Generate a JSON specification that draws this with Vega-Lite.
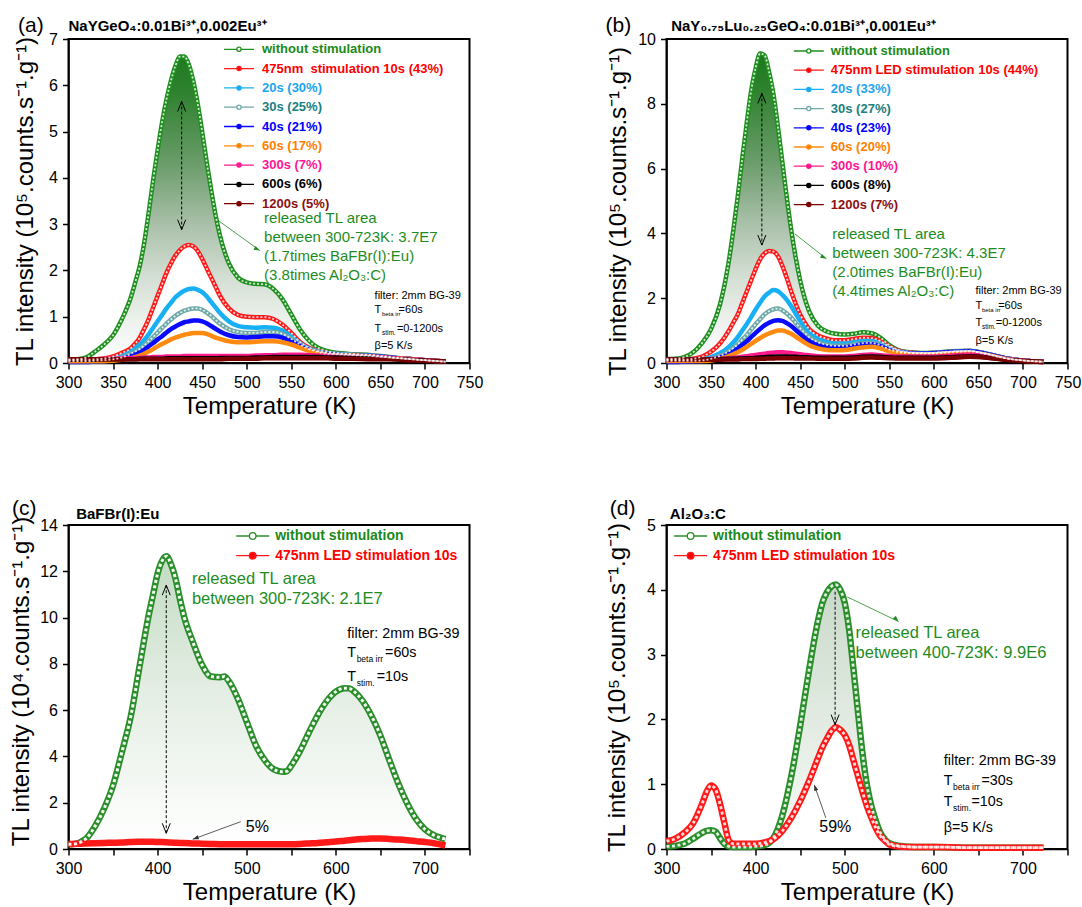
{
  "$schema": "https://vega.github.io/schema/vega-lite/v6.json",
  "background": "white",
  "padding": {"left": 8.5, "top": 13, "right": 5, "bottom": 5},
  "columns": 2,
  "spacing": {"row": 162, "column": 197},
  "bounds": "flush",
  "resolve": {"scale": {"x": "independent", "y": "independent", "color": "independent"}, "legend": {"color": "independent"}},
  "config": {
    "font": "Liberation Sans",
    "view": {"stroke": "black", "strokeWidth": 2},
    "axis": {"grid": false, "domainColor": "black", "domainWidth": 1.5, "tickColor": "black", "tickWidth": 1.5, "tickSize": 6, "labelFont": "Liberation Sans", "labelFontSize": 16, "labelColor": "black", "labelPadding": 5, "labelFlush": false, "labelOverlap": false, "titleFont": "Liberation Sans", "titleFontSize": 24, "titleFontWeight": "normal", "titleColor": "black"},
    "text": {"font": "Liberation Sans"}
  },
  "datasets": {
    "a": [
      {"T":300,"g":0.07,"r":0.07,"s20":0.05,"s30":0.04,"s40":0.02,"s60":0.04,"s300":0.08,"s600":0.07,"s1200":0.08},
      {"T":310,"g":0.08,"r":0.07,"s20":0.05,"s30":0.04,"s40":0.02,"s60":0.04,"s300":0.08,"s600":0.07,"s1200":0.08},
      {"T":320,"g":0.12,"r":0.07,"s20":0.05,"s30":0.04,"s40":0.02,"s60":0.04,"s300":0.08,"s600":0.07,"s1200":0.08},
      {"T":330,"g":0.25,"r":0.08,"s20":0.06,"s30":0.05,"s40":0.03,"s60":0.04,"s300":0.08,"s600":0.07,"s1200":0.08},
      {"T":340,"g":0.40,"r":0.10,"s20":0.07,"s30":0.06,"s40":0.04,"s60":0.04,"s300":0.09,"s600":0.08,"s1200":0.08},
      {"T":350,"g":0.60,"r":0.14,"s20":0.10,"s30":0.08,"s40":0.06,"s60":0.05,"s300":0.09,"s600":0.08,"s1200":0.08},
      {"T":360,"g":0.95,"r":0.22,"s20":0.15,"s30":0.12,"s40":0.09,"s60":0.07,"s300":0.10,"s600":0.08,"s1200":0.08},
      {"T":370,"g":1.42,"r":0.32,"s20":0.25,"s30":0.20,"s40":0.15,"s60":0.10,"s300":0.10,"s600":0.08,"s1200":0.08},
      {"T":375,"g":1.75,"r":0.42,"s20":0.32,"s30":0.25,"s40":0.19,"s60":0.13,"s300":0.11,"s600":0.08,"s1200":0.08},
      {"T":380,"g":2.10,"r":0.55,"s20":0.40,"s30":0.30,"s40":0.23,"s60":0.16,"s300":0.11,"s600":0.09,"s1200":0.08},
      {"T":385,"g":2.60,"r":0.74,"s20":0.50,"s30":0.38,"s40":0.29,"s60":0.20,"s300":0.12,"s600":0.09,"s1200":0.08},
      {"T":390,"g":3.25,"r":0.95,"s20":0.62,"s30":0.47,"s40":0.36,"s60":0.25,"s300":0.12,"s600":0.09,"s1200":0.08},
      {"T":395,"g":3.95,"r":1.20,"s20":0.76,"s30":0.56,"s40":0.43,"s60":0.30,"s300":0.13,"s600":0.09,"s1200":0.08},
      {"T":400,"g":4.60,"r":1.45,"s20":0.90,"s30":0.66,"s40":0.51,"s60":0.36,"s300":0.13,"s600":0.09,"s1200":0.08},
      {"T":405,"g":5.20,"r":1.70,"s20":1.04,"s30":0.76,"s40":0.58,"s60":0.41,"s300":0.13,"s600":0.09,"s1200":0.08},
      {"T":410,"g":5.70,"r":1.95,"s20":1.18,"s30":0.85,"s40":0.66,"s60":0.46,"s300":0.14,"s600":0.10,"s1200":0.08},
      {"T":415,"g":6.10,"r":2.15,"s20":1.30,"s30":0.94,"s40":0.73,"s60":0.51,"s300":0.14,"s600":0.10,"s1200":0.08},
      {"T":420,"g":6.42,"r":2.32,"s20":1.42,"s30":1.02,"s40":0.79,"s60":0.55,"s300":0.14,"s600":0.10,"s1200":0.08},
      {"T":425,"g":6.62,"r":2.44,"s20":1.50,"s30":1.08,"s40":0.84,"s60":0.58,"s300":0.14,"s600":0.10,"s1200":0.08},
      {"T":430,"g":6.62,"r":2.52,"s20":1.56,"s30":1.13,"s40":0.88,"s60":0.61,"s300":0.15,"s600":0.10,"s1200":0.08},
      {"T":435,"g":6.45,"r":2.55,"s20":1.60,"s30":1.16,"s40":0.90,"s60":0.63,"s300":0.15,"s600":0.10,"s1200":0.08},
      {"T":440,"g":6.10,"r":2.52,"s20":1.61,"s30":1.18,"s40":0.92,"s60":0.65,"s300":0.15,"s600":0.10,"s1200":0.08},
      {"T":445,"g":5.60,"r":2.42,"s20":1.58,"s30":1.18,"s40":0.92,"s60":0.65,"s300":0.15,"s600":0.10,"s1200":0.08},
      {"T":450,"g":5.00,"r":2.25,"s20":1.53,"s30":1.15,"s40":0.90,"s60":0.65,"s300":0.15,"s600":0.10,"s1200":0.08},
      {"T":455,"g":4.35,"r":2.05,"s20":1.44,"s30":1.09,"s40":0.86,"s60":0.63,"s300":0.15,"s600":0.10,"s1200":0.08},
      {"T":460,"g":3.75,"r":1.85,"s20":1.32,"s30":1.02,"s40":0.80,"s60":0.59,"s300":0.15,"s600":0.10,"s1200":0.08},
      {"T":465,"g":3.20,"r":1.65,"s20":1.20,"s30":0.93,"s40":0.74,"s60":0.55,"s300":0.15,"s600":0.10,"s1200":0.08},
      {"T":470,"g":2.75,"r":1.45,"s20":1.08,"s30":0.85,"s40":0.68,"s60":0.52,"s300":0.15,"s600":0.11,"s1200":0.08},
      {"T":480,"g":2.15,"r":1.18,"s20":0.90,"s30":0.73,"s40":0.60,"s60":0.47,"s300":0.15,"s600":0.11,"s1200":0.09},
      {"T":490,"g":1.85,"r":1.04,"s20":0.80,"s30":0.67,"s40":0.56,"s60":0.45,"s300":0.15,"s600":0.11,"s1200":0.09},
      {"T":500,"g":1.74,"r":1.00,"s20":0.77,"s30":0.65,"s40":0.55,"s60":0.45,"s300":0.15,"s600":0.11,"s1200":0.09},
      {"T":510,"g":1.71,"r":0.99,"s20":0.76,"s30":0.65,"s40":0.56,"s60":0.46,"s300":0.16,"s600":0.12,"s1200":0.09},
      {"T":520,"g":1.70,"r":0.99,"s20":0.77,"s30":0.67,"s40":0.58,"s60":0.47,"s300":0.17,"s600":0.12,"s1200":0.10},
      {"T":530,"g":1.60,"r":0.95,"s20":0.76,"s30":0.67,"s40":0.58,"s60":0.47,"s300":0.17,"s600":0.13,"s1200":0.10},
      {"T":540,"g":1.38,"r":0.83,"s20":0.70,"s30":0.63,"s40":0.55,"s60":0.45,"s300":0.18,"s600":0.13,"s1200":0.10},
      {"T":550,"g":1.05,"r":0.65,"s20":0.57,"s30":0.52,"s40":0.47,"s60":0.40,"s300":0.18,"s600":0.13,"s1200":0.10},
      {"T":560,"g":0.72,"r":0.45,"s20":0.42,"s30":0.40,"s40":0.37,"s60":0.33,"s300":0.18,"s600":0.13,"s1200":0.10},
      {"T":570,"g":0.48,"r":0.33,"s20":0.31,"s30":0.30,"s40":0.28,"s60":0.26,"s300":0.17,"s600":0.13,"s1200":0.10},
      {"T":580,"g":0.33,"r":0.26,"s20":0.25,"s30":0.24,"s40":0.22,"s60":0.21,"s300":0.16,"s600":0.13,"s1200":0.10},
      {"T":590,"g":0.26,"r":0.22,"s20":0.21,"s30":0.20,"s40":0.19,"s60":0.18,"s300":0.16,"s600":0.12,"s1200":0.10},
      {"T":600,"g":0.22,"r":0.20,"s20":0.20,"s30":0.19,"s40":0.18,"s60":0.17,"s300":0.15,"s600":0.12,"s1200":0.09},
      {"T":620,"g":0.19,"r":0.18,"s20":0.18,"s30":0.17,"s40":0.16,"s60":0.16,"s300":0.14,"s600":0.11,"s1200":0.09},
      {"T":640,"g":0.17,"r":0.16,"s20":0.16,"s30":0.15,"s40":0.15,"s60":0.14,"s300":0.13,"s600":0.10,"s1200":0.08},
      {"T":660,"g":0.13,"r":0.12,"s20":0.12,"s30":0.12,"s40":0.12,"s60":0.11,"s300":0.11,"s600":0.09,"s1200":0.08},
      {"T":680,"g":0.09,"r":0.09,"s20":0.09,"s30":0.09,"s40":0.09,"s60":0.09,"s300":0.08,"s600":0.07,"s1200":0.06},
      {"T":700,"g":0.06,"r":0.06,"s20":0.06,"s30":0.06,"s40":0.06,"s60":0.06,"s300":0.06,"s600":0.05,"s1200":0.05},
      {"T":723,"g":0.03,"r":0.03,"s20":0.03,"s30":0.03,"s40":0.03,"s60":0.03,"s300":0.03,"s600":0.03,"s1200":0.03}
    ],
    "b": [
      {"T":300,"g":0.12,"r":0.10,"s20":0.08,"s30":0.07,"s40":0.03,"s60":0.06,"s300":0.10,"s600":0.10,"s1200":0.10},
      {"T":310,"g":0.13,"r":0.10,"s20":0.08,"s30":0.07,"s40":0.03,"s60":0.06,"s300":0.10,"s600":0.10,"s1200":0.10},
      {"T":320,"g":0.18,"r":0.10,"s20":0.08,"s30":0.07,"s40":0.04,"s60":0.06,"s300":0.10,"s600":0.10,"s1200":0.10},
      {"T":330,"g":0.33,"r":0.13,"s20":0.09,"s30":0.07,"s40":0.05,"s60":0.06,"s300":0.11,"s600":0.10,"s1200":0.10},
      {"T":340,"g":0.62,"r":0.20,"s20":0.11,"s30":0.08,"s40":0.06,"s60":0.06,"s300":0.11,"s600":0.10,"s1200":0.10},
      {"T":350,"g":1.05,"r":0.35,"s20":0.18,"s30":0.13,"s40":0.10,"s60":0.08,"s300":0.12,"s600":0.11,"s1200":0.10},
      {"T":360,"g":1.80,"r":0.60,"s20":0.30,"s30":0.22,"s40":0.17,"s60":0.13,"s300":0.13,"s600":0.12,"s1200":0.10},
      {"T":370,"g":3.15,"r":1.00,"s20":0.50,"s30":0.36,"s40":0.28,"s60":0.21,"s300":0.15,"s600":0.13,"s1200":0.11},
      {"T":375,"g":4.10,"r":1.25,"s20":0.64,"s30":0.46,"s40":0.36,"s60":0.27,"s300":0.16,"s600":0.13,"s1200":0.11},
      {"T":380,"g":5.15,"r":1.50,"s20":0.80,"s30":0.58,"s40":0.45,"s60":0.33,"s300":0.17,"s600":0.14,"s1200":0.11},
      {"T":385,"g":6.30,"r":1.85,"s20":1.00,"s30":0.72,"s40":0.56,"s60":0.41,"s300":0.19,"s600":0.14,"s1200":0.12},
      {"T":390,"g":7.40,"r":2.20,"s20":1.20,"s30":0.86,"s40":0.67,"s60":0.50,"s300":0.21,"s600":0.15,"s1200":0.12},
      {"T":395,"g":8.40,"r":2.55,"s20":1.42,"s30":1.03,"s40":0.80,"s60":0.59,"s300":0.23,"s600":0.15,"s1200":0.12},
      {"T":400,"g":9.10,"r":2.90,"s20":1.65,"s30":1.20,"s40":0.93,"s60":0.68,"s300":0.25,"s600":0.16,"s1200":0.12},
      {"T":405,"g":9.55,"r":3.20,"s20":1.86,"s30":1.35,"s40":1.05,"s60":0.77,"s300":0.27,"s600":0.17,"s1200":0.13},
      {"T":410,"g":9.50,"r":3.38,"s20":2.05,"s30":1.50,"s40":1.16,"s60":0.85,"s300":0.29,"s600":0.18,"s1200":0.13},
      {"T":415,"g":9.00,"r":3.46,"s20":2.17,"s30":1.60,"s40":1.24,"s60":0.91,"s300":0.31,"s600":0.19,"s1200":0.14},
      {"T":420,"g":8.30,"r":3.44,"s20":2.25,"s30":1.66,"s40":1.30,"s60":0.96,"s300":0.32,"s600":0.19,"s1200":0.14},
      {"T":425,"g":7.30,"r":3.30,"s20":2.22,"s30":1.68,"s40":1.32,"s60":1.00,"s300":0.33,"s600":0.20,"s1200":0.15},
      {"T":430,"g":6.20,"r":3.00,"s20":2.10,"s30":1.63,"s40":1.30,"s60":1.00,"s300":0.33,"s600":0.20,"s1200":0.15},
      {"T":435,"g":5.10,"r":2.62,"s20":1.95,"s30":1.53,"s40":1.23,"s60":0.96,"s300":0.32,"s600":0.20,"s1200":0.15},
      {"T":440,"g":4.10,"r":2.20,"s20":1.75,"s30":1.40,"s40":1.14,"s60":0.90,"s300":0.31,"s600":0.19,"s1200":0.15},
      {"T":445,"g":3.25,"r":1.82,"s20":1.52,"s30":1.24,"s40":1.02,"s60":0.81,"s300":0.29,"s600":0.19,"s1200":0.14},
      {"T":450,"g":2.55,"r":1.50,"s20":1.30,"s30":1.07,"s40":0.90,"s60":0.72,"s300":0.27,"s600":0.18,"s1200":0.14},
      {"T":455,"g":2.00,"r":1.25,"s20":1.10,"s30":0.93,"s40":0.78,"s60":0.63,"s300":0.25,"s600":0.18,"s1200":0.14},
      {"T":460,"g":1.60,"r":1.05,"s20":0.95,"s30":0.80,"s40":0.68,"s60":0.55,"s300":0.24,"s600":0.17,"s1200":0.14},
      {"T":470,"g":1.15,"r":0.85,"s20":0.75,"s30":0.64,"s40":0.55,"s60":0.45,"s300":0.21,"s600":0.16,"s1200":0.13},
      {"T":480,"g":0.97,"r":0.75,"s20":0.65,"s30":0.56,"s40":0.49,"s60":0.40,"s300":0.20,"s600":0.16,"s1200":0.13},
      {"T":490,"g":0.90,"r":0.70,"s20":0.60,"s30":0.53,"s40":0.47,"s60":0.39,"s300":0.20,"s600":0.16,"s1200":0.13},
      {"T":500,"g":0.88,"r":0.70,"s20":0.60,"s30":0.53,"s40":0.48,"s60":0.40,"s300":0.20,"s600":0.16,"s1200":0.13},
      {"T":510,"g":0.90,"r":0.74,"s20":0.64,"s30":0.57,"s40":0.52,"s60":0.44,"s300":0.22,"s600":0.17,"s1200":0.14},
      {"T":520,"g":0.95,"r":0.78,"s20":0.68,"s30":0.61,"s40":0.57,"s60":0.48,"s300":0.25,"s600":0.19,"s1200":0.16},
      {"T":530,"g":0.92,"r":0.77,"s20":0.68,"s30":0.62,"s40":0.58,"s60":0.50,"s300":0.26,"s600":0.20,"s1200":0.17},
      {"T":540,"g":0.78,"r":0.68,"s20":0.60,"s30":0.55,"s40":0.52,"s60":0.45,"s300":0.24,"s600":0.19,"s1200":0.16},
      {"T":550,"g":0.55,"r":0.50,"s20":0.45,"s30":0.42,"s40":0.40,"s60":0.36,"s300":0.22,"s600":0.17,"s1200":0.15},
      {"T":560,"g":0.40,"r":0.38,"s20":0.36,"s30":0.34,"s40":0.33,"s60":0.30,"s300":0.20,"s600":0.16,"s1200":0.14},
      {"T":570,"g":0.34,"r":0.33,"s20":0.32,"s30":0.31,"s40":0.30,"s60":0.27,"s300":0.20,"s600":0.16,"s1200":0.14},
      {"T":580,"g":0.32,"r":0.31,"s20":0.30,"s30":0.30,"s40":0.29,"s60":0.26,"s300":0.20,"s600":0.16,"s1200":0.14},
      {"T":590,"g":0.31,"r":0.30,"s20":0.30,"s30":0.30,"s40":0.29,"s60":0.26,"s300":0.20,"s600":0.16,"s1200":0.14},
      {"T":600,"g":0.32,"r":0.31,"s20":0.31,"s30":0.30,"s40":0.30,"s60":0.27,"s300":0.20,"s600":0.16,"s1200":0.14},
      {"T":620,"g":0.36,"r":0.35,"s20":0.35,"s30":0.34,"s40":0.34,"s60":0.30,"s300":0.23,"s600":0.18,"s1200":0.16},
      {"T":640,"g":0.38,"r":0.37,"s20":0.37,"s30":0.36,"s40":0.36,"s60":0.32,"s300":0.26,"s600":0.21,"s1200":0.19},
      {"T":660,"g":0.28,"r":0.28,"s20":0.28,"s30":0.27,"s40":0.27,"s60":0.25,"s300":0.21,"s600":0.17,"s1200":0.16},
      {"T":680,"g":0.15,"r":0.15,"s20":0.15,"s30":0.15,"s40":0.15,"s60":0.13,"s300":0.12,"s600":0.10,"s1200":0.10},
      {"T":700,"g":0.08,"r":0.08,"s20":0.08,"s30":0.08,"s40":0.08,"s60":0.07,"s300":0.07,"s600":0.06,"s1200":0.06},
      {"T":723,"g":0.04,"r":0.04,"s20":0.04,"s30":0.04,"s40":0.04,"s60":0.04,"s300":0.03,"s600":0.03,"s1200":0.03}
    ],
    "c": [
      {"T":300,"g":0.20,"r":0.22},{"T":305,"g":0.21,"r":0.22},{"T":310,"g":0.24,"r":0.23},{"T":315,"g":0.33,"r":0.23},
      {"T":320,"g":0.46,"r":0.24},{"T":330,"g":1.00,"r":0.25},{"T":340,"g":1.75,"r":0.26},{"T":350,"g":2.75,"r":0.27},
      {"T":360,"g":4.20,"r":0.28},{"T":370,"g":5.75,"r":0.30},{"T":380,"g":7.95,"r":0.31},{"T":390,"g":10.10,"r":0.31},
      {"T":395,"g":11.00,"r":0.31},{"T":400,"g":11.90,"r":0.30},{"T":405,"g":12.45,"r":0.30},{"T":410,"g":12.65,"r":0.29},
      {"T":415,"g":12.30,"r":0.28},{"T":420,"g":11.70,"r":0.27},{"T":425,"g":10.80,"r":0.26},{"T":430,"g":10.00,"r":0.26},
      {"T":440,"g":8.90,"r":0.24},{"T":450,"g":7.95,"r":0.23},{"T":460,"g":7.45,"r":0.22},{"T":470,"g":7.42,"r":0.21},
      {"T":475,"g":7.45,"r":0.21},{"T":480,"g":7.25,"r":0.21},{"T":490,"g":6.50,"r":0.20},{"T":500,"g":5.50,"r":0.20},
      {"T":510,"g":4.50,"r":0.20},{"T":520,"g":3.85,"r":0.20},{"T":530,"g":3.45,"r":0.20},{"T":540,"g":3.34,"r":0.20},
      {"T":545,"g":3.36,"r":0.21},{"T":550,"g":3.60,"r":0.21},{"T":560,"g":4.25,"r":0.22},{"T":570,"g":5.05,"r":0.24},
      {"T":580,"g":5.80,"r":0.26},{"T":590,"g":6.40,"r":0.29},{"T":600,"g":6.80,"r":0.32},{"T":610,"g":6.95,"r":0.36},
      {"T":615,"g":6.94,"r":0.38},{"T":620,"g":6.82,"r":0.40},{"T":630,"g":6.40,"r":0.43},{"T":640,"g":5.75,"r":0.45},
      {"T":650,"g":4.90,"r":0.45},{"T":660,"g":3.85,"r":0.43},{"T":670,"g":2.84,"r":0.41},{"T":680,"g":1.98,"r":0.38},
      {"T":690,"g":1.30,"r":0.34},{"T":700,"g":0.85,"r":0.30},{"T":710,"g":0.60,"r":0.25},{"T":723,"g":0.43,"r":0.15}
    ],
    "d": [
      {"T":300,"g":0.04,"r":0.12},{"T":310,"g":0.05,"r":0.16},{"T":320,"g":0.08,"r":0.25},{"T":330,"g":0.16,"r":0.40},
      {"T":340,"g":0.25,"r":0.70},{"T":345,"g":0.28,"r":0.88},{"T":350,"g":0.29,"r":0.98},{"T":355,"g":0.27,"r":0.92},
      {"T":360,"g":0.17,"r":0.70},{"T":365,"g":0.08,"r":0.40},{"T":370,"g":0.04,"r":0.13},{"T":375,"g":0.03,"r":0.08},
      {"T":380,"g":0.03,"r":0.08},{"T":390,"g":0.03,"r":0.08},{"T":400,"g":0.04,"r":0.08},{"T":410,"g":0.06,"r":0.10},
      {"T":420,"g":0.17,"r":0.15},{"T":430,"g":0.52,"r":0.28},{"T":440,"g":1.12,"r":0.48},{"T":450,"g":1.90,"r":0.74},
      {"T":460,"g":2.76,"r":1.05},{"T":470,"g":3.52,"r":1.40},{"T":475,"g":3.80,"r":1.57},{"T":480,"g":3.96,"r":1.70},
      {"T":485,"g":4.05,"r":1.82},{"T":490,"g":4.08,"r":1.88},{"T":495,"g":4.00,"r":1.84},{"T":500,"g":3.80,"r":1.76},
      {"T":505,"g":3.38,"r":1.60},{"T":510,"g":2.75,"r":1.36},{"T":515,"g":2.10,"r":1.12},{"T":520,"g":1.47,"r":0.88},
      {"T":525,"g":0.98,"r":0.66},{"T":530,"g":0.66,"r":0.48},{"T":535,"g":0.43,"r":0.32},{"T":540,"g":0.25,"r":0.20},
      {"T":545,"g":0.15,"r":0.13},{"T":550,"g":0.09,"r":0.07},{"T":560,"g":0.05,"r":0.04},{"T":580,"g":0.03,"r":0.03},
      {"T":600,"g":0.03,"r":0.03},{"T":650,"g":0.02,"r":0.02},{"T":700,"g":0.02,"r":0.02},{"T":723,"g":0.02,"r":0.02}
    ]
  },
  "concat": [
    {
      "width": 401, "height": 324,
      "layer": [
        {
          "data": {"name": "a"},
          "mark": {"type": "area", "interpolate": "monotone", "color": {"gradient": "linear", "x1": 0, "y1": 0, "x2": 0, "y2": 1, "stops": [{"offset": 0, "color": "#1f7a1f"}, {"offset": 0.12, "color": "#2f822f"}, {"offset": 0.35, "color": "#6a9c6a"}, {"offset": 0.55, "color": "#a9c0a9"}, {"offset": 0.72, "color": "#d3ded3"}, {"offset": 0.87, "color": "#edf2ed"}, {"offset": 1, "color": "#ffffff"}]}},
          "encoding": {"x": {"field": "T", "type": "quantitative"}, "y": {"field": "g", "type": "quantitative"}, "y2": {"field": "r"}}
        },
        {
          "data": {"name": "a"},
          "transform": [{"fold": ["g", "r", "s20", "s30", "s40", "s60", "s300", "s600", "s1200"], "as": ["key", "v"]}],
          "mark": {"type": "line", "interpolate": "monotone", "strokeWidth": 4.5},
          "encoding": {
            "x": {"field": "T", "type": "quantitative", "scale": {"domain": [300, 750], "nice": false}, "title": "Temperature (K)",
              "axis": {"values": [300,325,350,375,400,425,450,475,500,525,550,575,600,625,650,675,700,725,750], "labelExpr": "datum.value % 50 === 0 ? format(datum.value, 'd') : ''", "titlePadding": 4,
                "encode": {"ticks": {"y2": {"value": {"expr": "datum.value % 50 === 0 ? 6 : 3.5"}}}}}},
            "y": {"field": "v", "type": "quantitative", "scale": {"domain": [0, 7], "nice": false}, "title": "TL intensity (10⁵.counts.s⁻¹.g⁻¹)",
              "axis": {"values": [0,0.5,1,1.5,2,2.5,3,3.5,4,4.5,5,5.5,6,6.5,7], "labelExpr": "datum.value % 1 === 0 ? format(datum.value, 'd') : ''", "titlePadding": 11,
                "encode": {"ticks": {"x2": {"value": {"expr": "datum.value % 1 === 0 ? -6 : -3.5"}}}}}},
            "color": {"field": "key", "type": "nominal",
              "scale": {"domain": ["g", "r", "s20", "s30", "s40", "s60", "s300", "s600", "s1200"], "range": ["#1f8f1f", "#ff1a1a", "#18b0f5", "#6fa8a8", "#0a0aff", "#ff8a10", "#ff1a8c", "#000000", "#7a0000"]},
              "legend": {"orient": "none", "legendX": 154.5, "legendY": 3.8, "title": null, "padding": 0,
                "labelExpr": "['without stimulation','475nm\u00a0 stimulation 10s (43%)','20s (30%)','30s (25%)','40s (21%)','60s (17%)','300s (7%)','600s (6%)','1200s (5%)'][indexof(['g','r','s20','s30','s40','s60','s300','s600','s1200'], datum.value)]",
                "labelFont": "Liberation Sans", "labelFontSize": 13, "labelFontWeight": "bold", "labelOffset": 7, "labelLimit": 400,
                "labelColor": {"expr": "['#1a8a1a','#ff0000','#21a5f0','#1a8080','#0000ff','#ff8000','#ff1493','#000000','#8b1010'][indexof(['g','r','s20','s30','s40','s60','s300','s600','s1200'], datum.value)]"},
                "symbolFillColor": {"expr": "['#ffffff','#ff0000','#21a5f0','#ffffff','#0000ff','#ff8000','#ff1493','#000000','#800000'][indexof(['g','r','s20','s30','s40','s60','s300','s600','s1200'], datum.value)]"},
                "symbolType": "M-1,0H-0.14M0.14,0H1M0.14,0A0.14,0.14,0,1,1,-0.14,0A0.14,0.14,0,1,1,0.14,0Z",
                "symbolSize": 900, "symbolStrokeWidth": 1.3, "clipHeight": 13, "rowPadding": 5.3}}
          }
        },
        {
          "data": {"name": "a"},
          "transform": [{"fold": ["g", "r", "s30"], "as": ["key", "v"]}],
          "mark": {"type": "line", "interpolate": "monotone", "strokeWidth": 1.8, "strokeDash": [2, 2], "color": "white", "opacity": 0.8},
          "encoding": {"x": {"field": "T", "type": "quantitative"}, "y": {"field": "v", "type": "quantitative"}, "detail": {"field": "key"}}
        },
        {"data": {"values": [{}]}, "mark": {"type": "text", "text": "(a)", "align": "left", "baseline": "alphabetic", "dx": -50.5, "dy": -7.3, "fontSize": 21, "color": "black"}, "encoding": {"x": {"datum": 300}, "y": {"datum": 7}}},
        {"data": {"values": [{}]}, "mark": {"type": "text", "text": "NaYGeO₄:0.01Bi³⁺,0.002Eu³⁺", "align": "left", "baseline": "alphabetic", "dy": -8.3, "fontSize": 15, "fontWeight": "bold", "color": "black"}, "encoding": {"x": {"datum": 300}, "y": {"datum": 7}}},
        {"data": {"values": [{}]}, "mark": {"type": "rule", "strokeDash": [3, 2], "strokeWidth": 1, "color": "black"}, "encoding": {"x": {"datum": 427}, "y": {"datum": 5.65}, "y2": {"datum": 2.88}}},
        {"data": {"values": [{}]}, "mark": {"type": "point", "shape": "M-0.8,2L0,0L0.8,2", "size": 100, "filled": false, "color": "black", "strokeWidth": 1, "opacity": 1}, "encoding": {"x": {"datum": 427}, "y": {"datum": 5.65}}},
        {"data": {"values": [{}]}, "mark": {"type": "point", "shape": "M-0.8,-2L0,0L0.8,-2", "size": 100, "filled": false, "color": "black", "strokeWidth": 1, "opacity": 1}, "encoding": {"x": {"datum": 427}, "y": {"datum": 2.88}}},
        {"data": {"values": [{}]}, "mark": {"type": "rule", "strokeWidth": 0.8, "color": "#1e8c1e"}, "encoding": {"x": {"datum": 468}, "y": {"datum": 3.08}, "x2": {"datum": 514.7}, "y2": {"datum": 2.43}}},
        {"data": {"values": [{}]}, "mark": {"type": "point", "shape": "M0,0L-0.7,-2L0.7,-2Z", "size": 36, "filled": true, "color": "#1e8c1e", "angle": 297, "opacity": 1}, "encoding": {"x": {"datum": 514.7}, "y": {"datum": 2.43}}},
        {"data": {"values": [{}]}, "mark": {"type": "text", "text": ["released TL area", "between 300-723K: 3.7E7", "(1.7times BaFBr(I):Eu)", "(3.8times Al₂O₃:C)"], "align": "left", "baseline": "alphabetic", "fontSize": 15, "lineHeight": 19, "color": "#1e8c1e"}, "encoding": {"x": {"datum": 519.5}, "y": {"datum": 3.02}}},
        {"data": {"values": [{}]}, "mark": {"type": "text", "text": "filter: 2mm BG-39", "align": "left", "baseline": "alphabetic", "fontSize": 11, "color": "black"}, "encoding": {"x": {"datum": 643.5}, "y": {"datum": 1.39}}},
        {"data": {"values": [{}]}, "mark": {"type": "text", "text": "T", "align": "left", "baseline": "alphabetic", "fontSize": 11, "color": "black"}, "encoding": {"x": {"datum": 643.5}, "y": {"datum": 1.08}}},
        {"data": {"values": [{}]}, "mark": {"type": "text", "text": "beta irr", "align": "left", "baseline": "alphabetic", "dx": 7.3, "dy": 3, "fontSize": 6, "color": "black"}, "encoding": {"x": {"datum": 643.5}, "y": {"datum": 1.08}}},
        {"data": {"values": [{}]}, "mark": {"type": "text", "text": "=60s", "align": "left", "baseline": "alphabetic", "dx": 24, "fontSize": 11, "color": "black"}, "encoding": {"x": {"datum": 643.5}, "y": {"datum": 1.08}}},
        {"data": {"values": [{}]}, "mark": {"type": "text", "text": "T", "align": "left", "baseline": "alphabetic", "fontSize": 11, "color": "black"}, "encoding": {"x": {"datum": 643.5}, "y": {"datum": 0.67}}},
        {"data": {"values": [{}]}, "mark": {"type": "text", "text": "stim.", "align": "left", "baseline": "alphabetic", "dx": 7.3, "dy": 3, "fontSize": 6.5, "color": "black"}, "encoding": {"x": {"datum": 643.5}, "y": {"datum": 0.67}}},
        {"data": {"values": [{}]}, "mark": {"type": "text", "text": "=0-1200s", "align": "left", "baseline": "alphabetic", "dx": 22.3, "fontSize": 11, "color": "black"}, "encoding": {"x": {"datum": 643.5}, "y": {"datum": 0.67}}},
        {"data": {"values": [{}]}, "mark": {"type": "text", "text": "β=5 K/s", "align": "left", "baseline": "alphabetic", "fontSize": 11, "color": "black"}, "encoding": {"x": {"datum": 643.5}, "y": {"datum": 0.30}}}
      ]
    },
    {
      "width": 401, "height": 324,
      "layer": [
        {
          "data": {"name": "b"},
          "mark": {"type": "area", "interpolate": "monotone", "color": {"gradient": "linear", "x1": 0, "y1": 0, "x2": 0, "y2": 1, "stops": [{"offset": 0, "color": "#1c781c"}, {"offset": 0.12, "color": "#2f822f"}, {"offset": 0.35, "color": "#6a9c6a"}, {"offset": 0.55, "color": "#a9c0a9"}, {"offset": 0.72, "color": "#d3ded3"}, {"offset": 0.87, "color": "#edf2ed"}, {"offset": 1, "color": "#ffffff"}]}},
          "encoding": {"x": {"field": "T", "type": "quantitative"}, "y": {"field": "g", "type": "quantitative"}, "y2": {"field": "r"}}
        },
        {
          "data": {"name": "b"},
          "transform": [{"fold": ["g", "r", "s20", "s30", "s40", "s60", "s300", "s600", "s1200"], "as": ["key", "v"]}],
          "mark": {"type": "line", "interpolate": "monotone", "strokeWidth": 4.5},
          "encoding": {
            "x": {"field": "T", "type": "quantitative", "scale": {"domain": [300, 750], "nice": false}, "title": "Temperature (K)",
              "axis": {"values": [300,325,350,375,400,425,450,475,500,525,550,575,600,625,650,675,700,725,750], "labelExpr": "datum.value % 50 === 0 ? format(datum.value, 'd') : ''", "titlePadding": 4,
                "encode": {"ticks": {"y2": {"value": {"expr": "datum.value % 50 === 0 ? 6 : 3.5"}}}}}},
            "y": {"field": "v", "type": "quantitative", "scale": {"domain": [0, 10], "nice": false}, "title": "TL intensity (10⁵.counts.s⁻¹.g⁻¹)",
              "axis": {"values": [0,1,2,3,4,5,6,7,8,9,10], "labelExpr": "datum.value % 2 === 0 ? format(datum.value, 'd') : ''", "titlePadding": 7.6, "titleY": 172,
                "encode": {"ticks": {"x2": {"value": {"expr": "datum.value % 2 === 0 ? -6 : -3.5"}}}}}},
            "color": {"field": "key", "type": "nominal",
              "scale": {"domain": ["g", "r", "s20", "s30", "s40", "s60", "s300", "s600", "s1200"], "range": ["#1f8f1f", "#ff1a1a", "#18b0f5", "#6fa8a8", "#0a0aff", "#ff8a10", "#ff1a8c", "#000000", "#7a0000"]},
              "legend": {"orient": "none", "legendX": 126.3, "legendY": 5.5, "title": null, "padding": 0,
                "labelExpr": "['without stimulation','475nm LED stimulation 10s (44%)','20s (33%)','30s (27%)','40s (23%)','60s (20%)','300s (10%)','600s (8%)','1200s (7%)'][indexof(['g','r','s20','s30','s40','s60','s300','s600','s1200'], datum.value)]",
                "labelFont": "Liberation Sans", "labelFontSize": 13, "labelFontWeight": "bold", "labelOffset": 6, "labelLimit": 400,
                "labelColor": {"expr": "['#1a8a1a','#ff0000','#21a5f0','#1a8080','#0000ff','#ff8000','#ff1493','#000000','#8b1010'][indexof(['g','r','s20','s30','s40','s60','s300','s600','s1200'], datum.value)]"},
                "symbolFillColor": {"expr": "['#ffffff','#ff0000','#21a5f0','#ffffff','#0000ff','#ff8000','#ff1493','#000000','#800000'][indexof(['g','r','s20','s30','s40','s60','s300','s600','s1200'], datum.value)]"},
                "symbolType": "M-1,0H-0.14M0.14,0H1M0.14,0A0.14,0.14,0,1,1,-0.14,0A0.14,0.14,0,1,1,0.14,0Z",
                "symbolSize": 900, "symbolStrokeWidth": 1.3, "clipHeight": 13, "rowPadding": 5.2}}
          }
        },
        {
          "data": {"name": "b"},
          "transform": [{"fold": ["g", "r", "s30"], "as": ["key", "v"]}],
          "mark": {"type": "line", "interpolate": "monotone", "strokeWidth": 1.8, "strokeDash": [2, 2], "color": "white", "opacity": 0.8},
          "encoding": {"x": {"field": "T", "type": "quantitative"}, "y": {"field": "v", "type": "quantitative"}, "detail": {"field": "key"}}
        },
        {"data": {"values": [{}]}, "mark": {"type": "text", "text": "(b)", "align": "left", "baseline": "alphabetic", "dx": -61, "dy": -7.3, "fontSize": 21, "color": "black"}, "encoding": {"x": {"datum": 300}, "y": {"datum": 10}}},
        {"data": {"values": [{}]}, "mark": {"type": "text", "text": "NaY₀.₇₅Lu₀.₂₅GeO₄:0.01Bi³⁺,0.001Eu³⁺", "align": "left", "baseline": "alphabetic", "dx": 4.7, "dy": -8.3, "fontSize": 15, "fontWeight": "bold", "color": "black"}, "encoding": {"x": {"datum": 300}, "y": {"datum": 10}}},
        {"data": {"values": [{}]}, "mark": {"type": "rule", "strokeDash": [3, 2], "strokeWidth": 1, "color": "black"}, "encoding": {"x": {"datum": 407}, "y": {"datum": 8.32}, "y2": {"datum": 3.64}}},
        {"data": {"values": [{}]}, "mark": {"type": "point", "shape": "M-0.8,2L0,0L0.8,2", "size": 100, "filled": false, "color": "black", "strokeWidth": 1, "opacity": 1}, "encoding": {"x": {"datum": 407}, "y": {"datum": 8.32}}},
        {"data": {"values": [{}]}, "mark": {"type": "point", "shape": "M-0.8,-2L0,0L0.8,-2", "size": 100, "filled": false, "color": "black", "strokeWidth": 1, "opacity": 1}, "encoding": {"x": {"datum": 407}, "y": {"datum": 3.64}}},
        {"data": {"values": [{}]}, "mark": {"type": "rule", "strokeWidth": 0.8, "color": "#1e8c1e"}, "encoding": {"x": {"datum": 443.8}, "y": {"datum": 3.99}, "x2": {"datum": 479.4}, "y2": {"datum": 3.22}}},
        {"data": {"values": [{}]}, "mark": {"type": "point", "shape": "M0,0L-0.7,-2L0.7,-2Z", "size": 36, "filled": true, "color": "#1e8c1e", "angle": 297, "opacity": 1}, "encoding": {"x": {"datum": 479.4}, "y": {"datum": 3.22}}},
        {"data": {"values": [{}]}, "mark": {"type": "text", "text": ["released TL area", "between 300-723K: 4.3E7", "(2.0times BaFBr(I):Eu)", "(4.4times Al₂O₃:C)"], "align": "left", "baseline": "alphabetic", "fontSize": 15, "lineHeight": 19, "color": "#1e8c1e"}, "encoding": {"x": {"datum": 486.1}, "y": {"datum": 3.84}}},
        {"data": {"values": [{}]}, "mark": {"type": "text", "text": "filter: 2mm BG-39", "align": "left", "baseline": "alphabetic", "fontSize": 11, "color": "black"}, "encoding": {"x": {"datum": 646.7}, "y": {"datum": 2.12}}},
        {"data": {"values": [{}]}, "mark": {"type": "text", "text": "T", "align": "left", "baseline": "alphabetic", "fontSize": 11, "color": "black"}, "encoding": {"x": {"datum": 646.7}, "y": {"datum": 1.68}}},
        {"data": {"values": [{}]}, "mark": {"type": "text", "text": "beta irr", "align": "left", "baseline": "alphabetic", "dx": 6.5, "dy": 3, "fontSize": 6, "color": "black"}, "encoding": {"x": {"datum": 646.7}, "y": {"datum": 1.68}}},
        {"data": {"values": [{}]}, "mark": {"type": "text", "text": "=60s", "align": "left", "baseline": "alphabetic", "dx": 22.7, "fontSize": 11, "color": "black"}, "encoding": {"x": {"datum": 646.7}, "y": {"datum": 1.68}}},
        {"data": {"values": [{}]}, "mark": {"type": "text", "text": "T", "align": "left", "baseline": "alphabetic", "fontSize": 11, "color": "black"}, "encoding": {"x": {"datum": 646.7}, "y": {"datum": 1.14}}},
        {"data": {"values": [{}]}, "mark": {"type": "text", "text": "stim.", "align": "left", "baseline": "alphabetic", "dx": 6.5, "dy": 3, "fontSize": 6.5, "color": "black"}, "encoding": {"x": {"datum": 646.7}, "y": {"datum": 1.14}}},
        {"data": {"values": [{}]}, "mark": {"type": "text", "text": "=0-1200s", "align": "left", "baseline": "alphabetic", "dx": 20.3, "fontSize": 11, "color": "black"}, "encoding": {"x": {"datum": 646.7}, "y": {"datum": 1.14}}},
        {"data": {"values": [{}]}, "mark": {"type": "text", "text": "β=5 K/s", "align": "left", "baseline": "alphabetic", "fontSize": 11, "color": "black"}, "encoding": {"x": {"datum": 646.7}, "y": {"datum": 0.6}}}
      ]
    },
    {
      "width": 401, "height": 324,
      "layer": [
        {
          "data": {"name": "c"},
          "mark": {"type": "area", "interpolate": "monotone", "color": {"gradient": "linear", "x1": 0, "y1": 0, "x2": 0, "y2": 1, "stops": [{"offset": 0, "color": "#c2dbc2"}, {"offset": 0.45, "color": "#e3ede3"}, {"offset": 1, "color": "#ffffff"}]}},
          "encoding": {"x": {"field": "T", "type": "quantitative"}, "y": {"field": "g", "type": "quantitative"}, "y2": {"field": "r"}}
        },
        {
          "data": {"name": "c"},
          "transform": [{"fold": ["g", "r"], "as": ["key", "v"]}],
          "mark": {"type": "line", "interpolate": "monotone", "strokeWidth": 6.5},
          "encoding": {
            "x": {"field": "T", "type": "quantitative", "scale": {"domain": [300, 750], "nice": false}, "title": "Temperature (K)",
              "axis": {"values": [300,350,400,450,500,550,600,650,700,750], "labelExpr": "datum.value % 100 === 0 && datum.value < 750 ? format(datum.value, 'd') : ''", "titlePadding": 4,
                "encode": {"ticks": {"y2": {"value": {"expr": "datum.value % 100 === 0 ? 6 : 3.5"}}}}}},
            "y": {"field": "v", "type": "quantitative", "scale": {"domain": [0, 14], "nice": false}, "title": "TL intensity (10⁴.counts.s⁻¹.g⁻¹)",
              "axis": {"values": [0,1,2,3,4,5,6,7,8,9,10,11,12,13,14], "labelExpr": "datum.value % 2 === 0 ? format(datum.value, 'd') : ''", "titlePadding": 6, "titleY": 156,
                "encode": {"ticks": {"x2": {"value": {"expr": "datum.value % 2 === 0 ? -6 : -3.5"}}}}}},
            "color": {"field": "key", "type": "nominal",
              "scale": {"domain": ["g", "r"], "range": ["#2a8f2a", "#ff1a1a"]},
              "legend": {"orient": "none", "legendX": 166.7, "legendY": 3.5, "title": null, "padding": 0,
                "labelExpr": "['without stimulation','475nm LED stimulation 10s'][indexof(['g','r'], datum.value)]",
                "labelFont": "Liberation Sans", "labelFontSize": 14, "labelFontWeight": "bold", "labelOffset": 5, "labelLimit": 400,
                "labelColor": {"expr": "['#1a8a1a','#ff0000'][indexof(['g','r'], datum.value)]"},
                "symbolFillColor": {"expr": "['#ffffff','#ff0000'][indexof(['g','r'], datum.value)]"},
                "symbolType": "M-1,0H-0.2M0.2,0H1M0.2,0A0.2,0.2,0,1,1,-0.2,0A0.2,0.2,0,1,1,0.2,0Z",
                "symbolSize": 1089, "symbolStrokeWidth": 1.3, "clipHeight": 15, "rowPadding": 4.7}}
          }
        },
        {
          "data": {"name": "c"},
          "transform": [{"fold": ["g"], "as": ["key", "v"]}],
          "mark": {"type": "line", "interpolate": "monotone", "strokeWidth": 3, "strokeDash": [3, 2.5], "color": "white", "opacity": 0.95},
          "encoding": {"x": {"field": "T", "type": "quantitative"}, "y": {"field": "v", "type": "quantitative"}, "detail": {"field": "key"}}
        },
        {"data": {"values": [{}]}, "mark": {"type": "text", "text": "(c)", "align": "left", "baseline": "alphabetic", "dx": -56.6, "dy": -10, "fontSize": 21, "color": "black"}, "encoding": {"x": {"datum": 300}, "y": {"datum": 14}}},
        {"data": {"values": [{}]}, "mark": {"type": "text", "text": "BaFBr(I):Eu", "align": "left", "baseline": "alphabetic", "dx": 7.7, "dy": -5.7, "fontSize": 15, "fontWeight": "bold", "color": "black"}, "encoding": {"x": {"datum": 300}, "y": {"datum": 14}}},
        {"data": {"values": [{}]}, "mark": {"type": "rule", "strokeDash": [3, 2], "strokeWidth": 1, "color": "black"}, "encoding": {"x": {"datum": 409.7}, "y": {"datum": 11.4}, "y2": {"datum": 0.68}}},
        {"data": {"values": [{}]}, "mark": {"type": "point", "shape": "M-0.8,2L0,0L0.8,2", "size": 100, "filled": false, "color": "black", "strokeWidth": 1, "opacity": 1}, "encoding": {"x": {"datum": 409.7}, "y": {"datum": 11.4}}},
        {"data": {"values": [{}]}, "mark": {"type": "point", "shape": "M-0.8,-2L0,0L0.8,-2", "size": 100, "filled": false, "color": "black", "strokeWidth": 1, "opacity": 1}, "encoding": {"x": {"datum": 409.7}, "y": {"datum": 0.68}}},
        {"data": {"values": [{}]}, "mark": {"type": "text", "text": ["released TL area", "between 300-723K: 2.1E7"], "align": "left", "baseline": "alphabetic", "fontSize": 16.5, "lineHeight": 20, "color": "#1e8c1e"}, "encoding": {"x": {"datum": 438.5}, "y": {"datum": 11.44}}},
        {"data": {"values": [{}]}, "mark": {"type": "text", "text": "filter: 2mm BG-39", "align": "left", "baseline": "alphabetic", "fontSize": 14.3, "color": "black"}, "encoding": {"x": {"datum": 612.9}, "y": {"datum": 9.1}}},
        {"data": {"values": [{}]}, "mark": {"type": "text", "text": "T", "align": "left", "baseline": "alphabetic", "fontSize": 14.3, "color": "black"}, "encoding": {"x": {"datum": 612.9}, "y": {"datum": 8.28}}},
        {"data": {"values": [{}]}, "mark": {"type": "text", "text": "beta irr", "align": "left", "baseline": "alphabetic", "dx": 9.3, "dy": 5, "fontSize": 8.5, "color": "black"}, "encoding": {"x": {"datum": 612.9}, "y": {"datum": 8.28}}},
        {"data": {"values": [{}]}, "mark": {"type": "text", "text": "=60s", "align": "left", "baseline": "alphabetic", "dx": 37.7, "fontSize": 14.3, "color": "black"}, "encoding": {"x": {"datum": 612.9}, "y": {"datum": 8.28}}},
        {"data": {"values": [{}]}, "mark": {"type": "text", "text": "T", "align": "left", "baseline": "alphabetic", "fontSize": 14.3, "color": "black"}, "encoding": {"x": {"datum": 612.9}, "y": {"datum": 7.27}}},
        {"data": {"values": [{}]}, "mark": {"type": "text", "text": "stim.", "align": "left", "baseline": "alphabetic", "dx": 9.3, "dy": 5, "fontSize": 8.5, "color": "black"}, "encoding": {"x": {"datum": 612.9}, "y": {"datum": 7.27}}},
        {"data": {"values": [{}]}, "mark": {"type": "text", "text": "=10s", "align": "left", "baseline": "alphabetic", "dx": 29.3, "fontSize": 14.3, "color": "black"}, "encoding": {"x": {"datum": 612.9}, "y": {"datum": 7.27}}},
        {"data": {"values": [{}]}, "mark": {"type": "text", "text": "5%", "align": "left", "baseline": "alphabetic", "fontSize": 16, "color": "black"}, "encoding": {"x": {"datum": 498.9}, "y": {"datum": 0.75}}},
        {"data": {"values": [{}]}, "mark": {"type": "rule", "strokeWidth": 0.8, "color": "#333333"}, "encoding": {"x": {"datum": 493.3}, "y": {"datum": 1.18}, "x2": {"datum": 439.4}, "y2": {"datum": 0.42}}},
        {"data": {"values": [{}]}, "mark": {"type": "point", "shape": "M0,0L-0.7,-2L0.7,-2Z", "size": 36, "filled": true, "color": "#333333", "angle": 70, "opacity": 1}, "encoding": {"x": {"datum": 439.4}, "y": {"datum": 0.42}}}
      ]
    },
    {
      "width": 401, "height": 324,
      "layer": [
        {
          "data": {"name": "d"},
          "transform": [{"filter": "datum.T >= 400"}],
          "mark": {"type": "area", "interpolate": "monotone", "color": {"gradient": "linear", "x1": 0, "y1": 0, "x2": 0, "y2": 1, "stops": [{"offset": 0, "color": "#c9d9c9"}, {"offset": 0.6, "color": "#e6eee6"}, {"offset": 1, "color": "#f8faf8"}]}},
          "encoding": {"x": {"field": "T", "type": "quantitative"}, "y": {"field": "g", "type": "quantitative"}, "y2": {"field": "r"}}
        },
        {
          "data": {"name": "d"},
          "transform": [{"fold": ["g", "r"], "as": ["key", "v"]}],
          "mark": {"type": "line", "interpolate": "monotone", "strokeWidth": 6.5},
          "encoding": {
            "x": {"field": "T", "type": "quantitative", "scale": {"domain": [300, 750], "nice": false}, "title": "Temperature (K)",
              "axis": {"values": [300,350,400,450,500,550,600,650,700,750], "labelExpr": "datum.value % 100 === 0 && datum.value < 750 ? format(datum.value, 'd') : ''", "titlePadding": 4,
                "encode": {"ticks": {"y2": {"value": {"expr": "datum.value % 100 === 0 ? 6 : 3.5"}}}}}},
            "y": {"field": "v", "type": "quantitative", "scale": {"domain": [0, 5], "nice": false}, "title": "TL intensity (10⁵.counts.s⁻¹.g⁻¹)",
              "axis": {"values": [0,0.5,1,1.5,2,2.5,3,3.5,4,4.5,5], "labelExpr": "datum.value % 1 === 0 ? format(datum.value, 'd') : ''", "titlePadding": 17,
                "encode": {"ticks": {"x2": {"value": {"expr": "datum.value % 1 === 0 ? -6 : -3.5"}}}}}},
            "color": {"field": "key", "type": "nominal",
              "scale": {"domain": ["g", "r"], "range": ["#2a8f2a", "#ff1a1a"]},
              "legend": {"orient": "none", "legendX": 6.6, "legendY": 3.5, "title": null, "padding": 0,
                "labelExpr": "['without stimulation','475nm LED stimulation 10s'][indexof(['g','r'], datum.value)]",
                "labelFont": "Liberation Sans", "labelFontSize": 14, "labelFontWeight": "bold", "labelOffset": 5, "labelLimit": 400,
                "labelColor": {"expr": "['#1a8a1a','#ff0000'][indexof(['g','r'], datum.value)]"},
                "symbolFillColor": {"expr": "['#ffffff','#ff0000'][indexof(['g','r'], datum.value)]"},
                "symbolType": "M-1,0H-0.2M0.2,0H1M0.2,0A0.2,0.2,0,1,1,-0.2,0A0.2,0.2,0,1,1,0.2,0Z",
                "symbolSize": 1089, "symbolStrokeWidth": 1.3, "clipHeight": 15, "rowPadding": 4.7}}
          }
        },
        {
          "data": {"name": "d"},
          "transform": [{"fold": ["g", "r"], "as": ["key", "v"]}],
          "mark": {"type": "line", "interpolate": "monotone", "strokeWidth": 2.8, "strokeDash": [3, 2.5], "color": "white", "opacity": 0.85},
          "encoding": {"x": {"field": "T", "type": "quantitative"}, "y": {"field": "v", "type": "quantitative"}, "detail": {"field": "key"}}
        },
        {"data": {"values": [{}]}, "mark": {"type": "text", "text": "(d)", "align": "left", "baseline": "alphabetic", "dx": -56.7, "dy": -10, "fontSize": 21, "color": "black"}, "encoding": {"x": {"datum": 300}, "y": {"datum": 5}}},
        {"data": {"values": [{}]}, "mark": {"type": "text", "text": "Al₂O₃:C", "align": "left", "baseline": "alphabetic", "dx": 3.3, "dy": -5.7, "fontSize": 15, "fontWeight": "bold", "color": "black"}, "encoding": {"x": {"datum": 300}, "y": {"datum": 5}}},
        {"data": {"values": [{}]}, "mark": {"type": "rule", "strokeDash": [3, 2], "strokeWidth": 1, "color": "black"}, "encoding": {"x": {"datum": 489.2}, "y": {"datum": 3.97}, "y2": {"datum": 1.92}}},
        {"data": {"values": [{}]}, "mark": {"type": "point", "shape": "M-0.8,-2L0,0L0.8,-2", "size": 100, "filled": false, "color": "black", "strokeWidth": 1, "opacity": 1}, "encoding": {"x": {"datum": 489.2}, "y": {"datum": 1.92}}},
        {"data": {"values": [{}]}, "mark": {"type": "rule", "strokeWidth": 0.8, "color": "#1e8c1e"}, "encoding": {"x": {"datum": 502.9}, "y": {"datum": 3.89}, "x2": {"datum": 560.4}, "y2": {"datum": 3.51}}},
        {"data": {"values": [{}]}, "mark": {"type": "point", "shape": "M0,0L-0.7,-2L0.7,-2Z", "size": 36, "filled": true, "color": "#1e8c1e", "angle": 315, "opacity": 1}, "encoding": {"x": {"datum": 560.4}, "y": {"datum": 3.51}}},
        {"data": {"values": [{}]}, "mark": {"type": "text", "text": ["released TL area", "between 400-723K: 9.9E6"], "align": "left", "baseline": "alphabetic", "fontSize": 16.5, "lineHeight": 20.7, "color": "#1e8c1e"}, "encoding": {"x": {"datum": 512.2}, "y": {"datum": 3.26}}},
        {"data": {"values": [{}]}, "mark": {"type": "text", "text": "filter: 2mm BG-39", "align": "left", "baseline": "alphabetic", "fontSize": 14.3, "color": "black"}, "encoding": {"x": {"datum": 611.2}, "y": {"datum": 1.30}}},
        {"data": {"values": [{}]}, "mark": {"type": "text", "text": "T", "align": "left", "baseline": "alphabetic", "fontSize": 14.3, "color": "black"}, "encoding": {"x": {"datum": 611.2}, "y": {"datum": 0.99}}},
        {"data": {"values": [{}]}, "mark": {"type": "text", "text": "beta irr", "align": "left", "baseline": "alphabetic", "dx": 9.3, "dy": 5, "fontSize": 8.5, "color": "black"}, "encoding": {"x": {"datum": 611.2}, "y": {"datum": 0.99}}},
        {"data": {"values": [{}]}, "mark": {"type": "text", "text": "=30s", "align": "left", "baseline": "alphabetic", "dx": 37.7, "fontSize": 14.3, "color": "black"}, "encoding": {"x": {"datum": 611.2}, "y": {"datum": 0.99}}},
        {"data": {"values": [{}]}, "mark": {"type": "text", "text": "T", "align": "left", "baseline": "alphabetic", "fontSize": 14.3, "color": "black"}, "encoding": {"x": {"datum": 611.2}, "y": {"datum": 0.66}}},
        {"data": {"values": [{}]}, "mark": {"type": "text", "text": "stim.", "align": "left", "baseline": "alphabetic", "dx": 9.3, "dy": 5, "fontSize": 8.5, "color": "black"}, "encoding": {"x": {"datum": 611.2}, "y": {"datum": 0.66}}},
        {"data": {"values": [{}]}, "mark": {"type": "text", "text": "=10s", "align": "left", "baseline": "alphabetic", "dx": 27.7, "fontSize": 14.3, "color": "black"}, "encoding": {"x": {"datum": 611.2}, "y": {"datum": 0.66}}},
        {"data": {"values": [{}]}, "mark": {"type": "text", "text": "β=5 K/s", "align": "left", "baseline": "alphabetic", "fontSize": 14.3, "color": "black"}, "encoding": {"x": {"datum": 611.2}, "y": {"datum": 0.26}}},
        {"data": {"values": [{}]}, "mark": {"type": "text", "text": "59%", "align": "left", "baseline": "alphabetic", "fontSize": 16, "color": "black"}, "encoding": {"x": {"datum": 471.4}, "y": {"datum": 0.26}}},
        {"data": {"values": [{}]}, "mark": {"type": "rule", "strokeWidth": 0.8, "color": "#333333"}, "encoding": {"x": {"datum": 478.8}, "y": {"datum": 0.48}, "x2": {"datum": 465.8}, "y2": {"datum": 0.99}}},
        {"data": {"values": [{}]}, "mark": {"type": "point", "shape": "M0,0L-0.7,-2L0.7,-2Z", "size": 36, "filled": true, "color": "#333333", "angle": 160.6, "opacity": 1}, "encoding": {"x": {"datum": 465.8}, "y": {"datum": 0.99}}}
      ]
    }
  ]
}
